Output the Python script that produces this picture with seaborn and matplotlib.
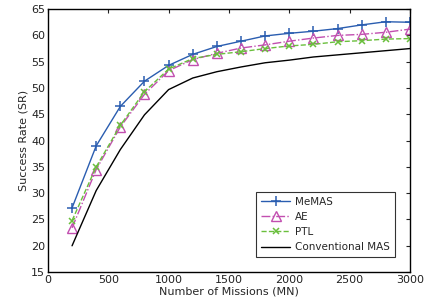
import matplotlib
matplotlib.use("Agg")
import matplotlib.pyplot as plt
import seaborn as sns
import pandas as pd

missions = [200, 400, 600, 800, 1000, 1200, 1400, 1600, 1800, 2000, 2200, 2400, 2600, 2800, 3000]
memas = [27.2, 39.0, 46.5, 51.3, 54.3, 56.4, 57.9, 58.9, 59.9, 60.4, 60.8, 61.3, 62.0, 62.6, 62.5]
ae = [23.4, 34.5, 42.6, 48.8, 53.3, 55.4, 56.6, 57.6, 58.2, 58.9, 59.5, 60.0, 60.2, 60.6, 61.2]
ptl = [24.8, 35.0, 42.9, 49.3, 53.6, 55.6, 56.4, 56.9, 57.5, 58.0, 58.3, 58.8, 59.0, 59.3, 59.4]
conv = [20.0, 30.5, 38.3, 44.9, 49.7, 51.9, 53.1, 54.0, 54.8, 55.3, 55.9, 56.3, 56.7, 57.1, 57.5]
series_names = ["MeMAS", "AE", "PTL", "Conventional MAS"]

sns.set_style("white")
plt.rcParams['font.family'] = ['DejaVu Sans']

fig = plt.figure(figsize=(4.24, 3.04), dpi=100)
ax = fig.add_axes([0.113, 0.105, 0.854, 0.865])

styles = {
    "MeMAS": dict(color="#2a5db0", marker="+", ls="-", ms=6.5, mew=1.1, mfc="#2a5db0"),
    "AE": dict(color="#c24fb0", marker="^", ls="-.", ms=6.5, mew=1.0, mfc="none"),
    "PTL": dict(color="#6abf3c", marker="x", ls="--", ms=4.5, mew=1.1, mfc="#6abf3c"),
    "Conventional MAS": dict(color="black", marker="None", ls="-", ms=0, mew=0, mfc="black"),
}
for name, vals in zip(series_names, [memas, ae, ptl, conv]):
    df = pd.DataFrame({"MN": missions, "SR": vals})
    st = styles[name]
    sns.lineplot(data=df, x="MN", y="SR", ax=ax, label=name, lw=1.0, color=st["color"])
    ln = ax.lines[-1]
    ln.set_marker(st["marker"])
    ln.set_linestyle(st["ls"])
    ln.set_markersize(st["ms"])
    ln.set_markeredgewidth(st["mew"])
    ln.set_markeredgecolor(st["color"])
    ln.set_markerfacecolor(st["mfc"])

ax.set_xlim(0, 3000)
ax.set_ylim(15, 65)
ax.set_xticks(range(0, 3001, 500))
ax.set_yticks(range(15, 66, 5))
ax.set_xlabel("Number of Missions (MN)", fontsize=8, labelpad=1)
ax.set_ylabel("Success Rate (SR)", fontsize=8, labelpad=2)
ax.tick_params(axis="both", which="both", direction="in", top=True, right=True,
               labelsize=8, length=3, width=0.8, pad=2, colors="#222222", labelcolor="#222222")
for s in ax.spines.values():
    s.set_linewidth(1.0)
    s.set_color("black")

handles = ax.lines[:4]
leg = ax.legend(handles, series_names, loc="lower right", fontsize=7.5, frameon=True, fancybox=False,
                edgecolor="black", handlelength=2.8, handletextpad=0.5, borderpad=0.45,
                labelspacing=0.5, borderaxespad=1.45)
leg.get_frame().set_linewidth(0.8)

fig.savefig("out.png", dpi=100)
